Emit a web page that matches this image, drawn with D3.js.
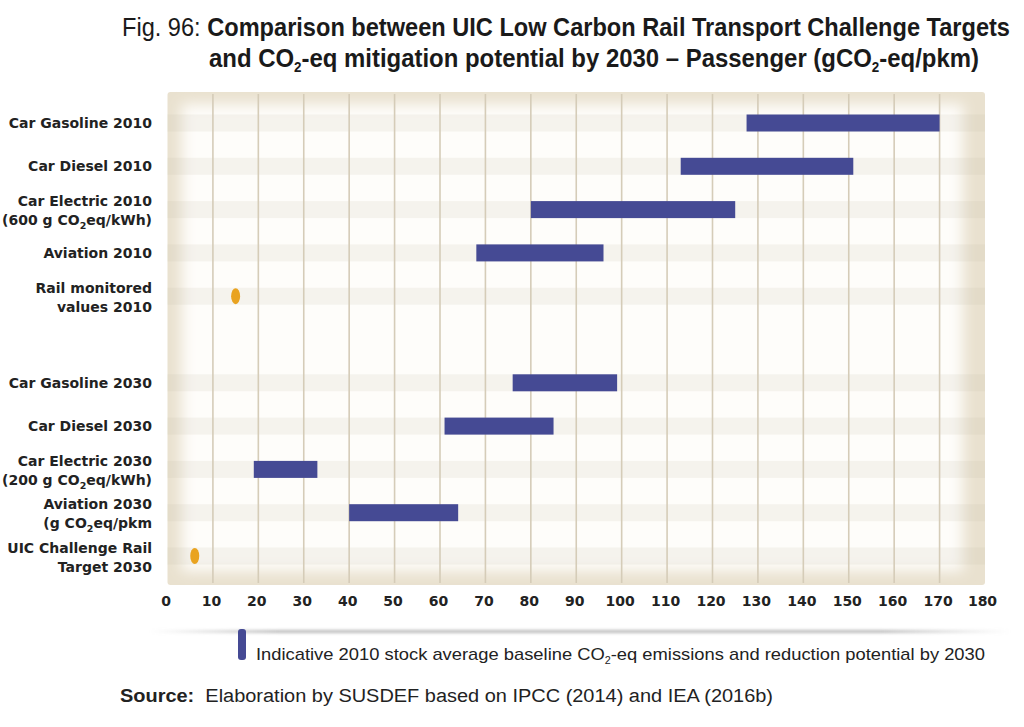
<!DOCTYPE html>
<html><head><meta charset="utf-8">
<script src="https://cdn.jsdelivr.net/npm/d3@7"></script>
<style>body{margin:0;background:#fff}svg{display:block}</style>
</head><body>
<svg id="c" width="1024" height="727"></svg>
<script>
// ---- data ----
const categories = ["Car Gasoline 2010","Car Diesel 2010","Car Electric 2010","Aviation 2010","Rail monitored values 2010","",
  "Car Gasoline 2030","Car Diesel 2030","Car Electric 2030","Aviation 2030","UIC Challenge Rail Target 2030"];
const labelLines = [
  [["Car Gasoline 2010"]],
  [["Car Diesel 2010"]],
  [["Car Electric 2010"],["(600 g CO","2","eq/kWh)"]],
  [["Aviation 2010"]],
  [["Rail monitored"],["values 2010"]],
  [],
  [["Car Gasoline 2030"]],
  [["Car Diesel 2030"]],
  [["Car Electric 2030"],["(200 g CO","2","eq/kWh)"]],
  [["Aviation 2030"],["(g CO","2","eq/pkm"]],
  [["UIC Challenge Rail"],["Target 2030"]]
];
const rangeLow  = [127.5, 113, 80, 68, null, null, 76, 61, 19, 40, null];
const rangeHigh = [170,   151, 125, 96, null, null, 99, 85, 33, 64, null];
const pointValues = [null, null, null, null, 15, null, null, null, null, null, 6];
const xTicks = [0,10,20,30,40,50,60,70,80,90,100,110,120,130,140,150,160,170,180];

const barColor = "#454a94", dotColor = "#e9a320";
const svg = d3.select("#c");
const defs = svg.append("defs");
defs.append("filter").attr("id","blur").attr("x","-10%").attr("y","-10%").attr("width","120%").attr("height","120%")
  .append("feGaussianBlur").attr("stdDeviation", 7);
defs.append("filter").attr("id","blur2").attr("x","-5%").attr("y","-200%").attr("width","110%").attr("height","500%")
  .append("feGaussianBlur").attr("stdDeviation", 1.6);

const x = d3.scaleLinear().domain([0,180]).range([167.5, 985]);
const y = d3.scalePoint().domain(categories).range([123, 556]);
const pTop = 92, pBottom = 585;

// panel
svg.append("rect").attr("x", x(0)).attr("y", pTop).attr("width", x(180)-x(0)).attr("height", pBottom-pTop)
  .attr("rx", 3).attr("fill", "#e9e1cf");
svg.append("rect").attr("x", x(0)+14).attr("y", pTop+12).attr("width", x(180)-x(0)-36).attr("height", pBottom-pTop-26)
  .attr("fill", "#fefdfa").attr("filter","url(#blur)");

// row stripes
svg.append("g").selectAll("rect").data(categories.filter(c => c !== "")).join("rect")
  .attr("x", x(0)).attr("width", x(180)-x(0))
  .attr("y", d => y(d) - 8.5).attr("height", 17)
  .attr("fill", "#bdb6a6").attr("opacity", 0.14);

// gridlines
svg.append("g").selectAll("line").data(xTicks.filter(t => t > 0 && t < 180)).join("line")
  .attr("x1", d => x(d)).attr("x2", d => x(d)).attr("y1", pTop+2).attr("y2", pBottom-2)
  .attr("stroke", "#d5ccb8").attr("stroke-width", 1.6);

// bars
svg.append("g").selectAll("rect").data(categories.map((c,i)=>({c, lo:rangeLow[i], hi:rangeHigh[i]})).filter(d => d.lo != null)).join("rect")
  .attr("x", d => x(d.lo)).attr("width", d => x(d.hi)-x(d.lo))
  .attr("y", d => y(d.c) - 8.5).attr("height", 17)
  .attr("fill", barColor);

// points
svg.append("g").selectAll("ellipse").data(categories.map((c,i)=>({c, v:pointValues[i]})).filter(d => d.v != null)).join("ellipse")
  .attr("cx", d => x(d.v)).attr("cy", d => y(d.c)).attr("rx", 4.5).attr("ry", 8)
  .attr("fill", dotColor);

// x axis
const xAxis = d3.axisBottom(x).tickValues(xTicks).tickSize(0).tickPadding(0);
const gx = svg.append("g").attr("transform", `translate(0,${pBottom+8})`).call(xAxis);
gx.select(".domain").remove();
gx.selectAll("text").attr("font-family","DejaVu Sans").attr("font-weight","bold").attr("font-size",14)
  .attr("fill","#222").attr("dy","0.95em").attr("dx", d => d === 180 ? -3 : -2);

// y labels
const yl = svg.append("g");
categories.forEach((c,i) => {
  const lines = labelLines[i];
  if (!lines.length) return;
  const n = lines.length;
  lines.forEach((ln, k) => {
    const baseY = y(c) + 5 + (k - (n-1)/2) * 19 + (n > 1 ? 1 : 0);
    const t = yl.append("text").attr("x", 152).attr("y", baseY).attr("text-anchor","end")
      .attr("font-family","DejaVu Sans").attr("font-weight","bold").attr("font-size",14).attr("fill","#222");
    if (ln.length === 1) {
      t.text(ln[0]);
    } else {
      t.append("tspan").text(ln[0]);
      t.append("tspan").attr("dy", 4).attr("font-size",9.5).text(ln[1]);
      t.append("tspan").attr("dy", -4).text(ln[2]);
    }
  });
});

// title
const tf = "'Liberation Sans Narrow','Arial Narrow','Liberation Sans',sans-serif";
const t1 = svg.append("text").attr("x",122).attr("y",36).attr("font-family",tf).attr("font-size",25).attr("fill","#1a1a1a")
  .attr("textLength", 888).attr("lengthAdjust","spacingAndGlyphs");
t1.append("tspan").text("Fig. 96: ");
t1.append("tspan").attr("font-weight","bold").text("Comparison between UIC Low Carbon Rail Transport Challenge Targets");
const t2 = svg.append("text").attr("x",209).attr("y",67).attr("font-family",tf).attr("font-size",25).attr("font-weight","bold").attr("fill","#1a1a1a")
  .attr("textLength", 770).attr("lengthAdjust","spacingAndGlyphs");
t2.append("tspan").text("and CO");
t2.append("tspan").attr("dy",5).attr("font-size",14).text("2");
t2.append("tspan").attr("dy",-5).text("-eq mitigation potential by 2030 \u2013 Passenger (gCO");
t2.append("tspan").attr("dy",5).attr("font-size",14).text("2");
t2.append("tspan").attr("dy",-5).text("-eq/pkm)");

// shadow line under axis
const lg = defs.append("linearGradient").attr("id","sh").attr("x1","0").attr("x2","1");
lg.append("stop").attr("offset","0").attr("stop-color","#bbb").attr("stop-opacity",0);
lg.append("stop").attr("offset","0.15").attr("stop-color","#aaa").attr("stop-opacity",0.8);
lg.append("stop").attr("offset","0.85").attr("stop-color","#aaa").attr("stop-opacity",0.8);
lg.append("stop").attr("offset","1").attr("stop-color","#bbb").attr("stop-opacity",0);
svg.append("rect").attr("x",150).attr("y",630).attr("width",860).attr("height",3).attr("fill","url(#sh)").attr("filter","url(#blur2)");

// legend
svg.append("rect").attr("x",238).attr("y",629).attr("width",8).attr("height",31).attr("rx",3).attr("fill",barColor);
const lt = svg.append("text").attr("x",256).attr("y",660).attr("font-family",tf).attr("font-size",17).attr("fill","#222")
  .attr("textLength", 729).attr("lengthAdjust","spacingAndGlyphs");
lt.append("tspan").text("Indicative 2010 stock average baseline CO");
lt.append("tspan").attr("dy",4).attr("font-size",10).text("2");
lt.append("tspan").attr("dy",-4).text("-eq emissions and reduction potential by 2030");

// source
const st = svg.append("text").attr("x",120).attr("y",702).attr("font-family",tf).attr("font-size",18).attr("fill","#222")
  .attr("textLength", 653).attr("lengthAdjust","spacingAndGlyphs");
st.append("tspan").attr("font-weight","bold").text("Source:");
st.append("tspan").text("\u00a0 Elaboration by SUSDEF based on IPCC (2014) and IEA (2016b)");
</script>
</body></html>
